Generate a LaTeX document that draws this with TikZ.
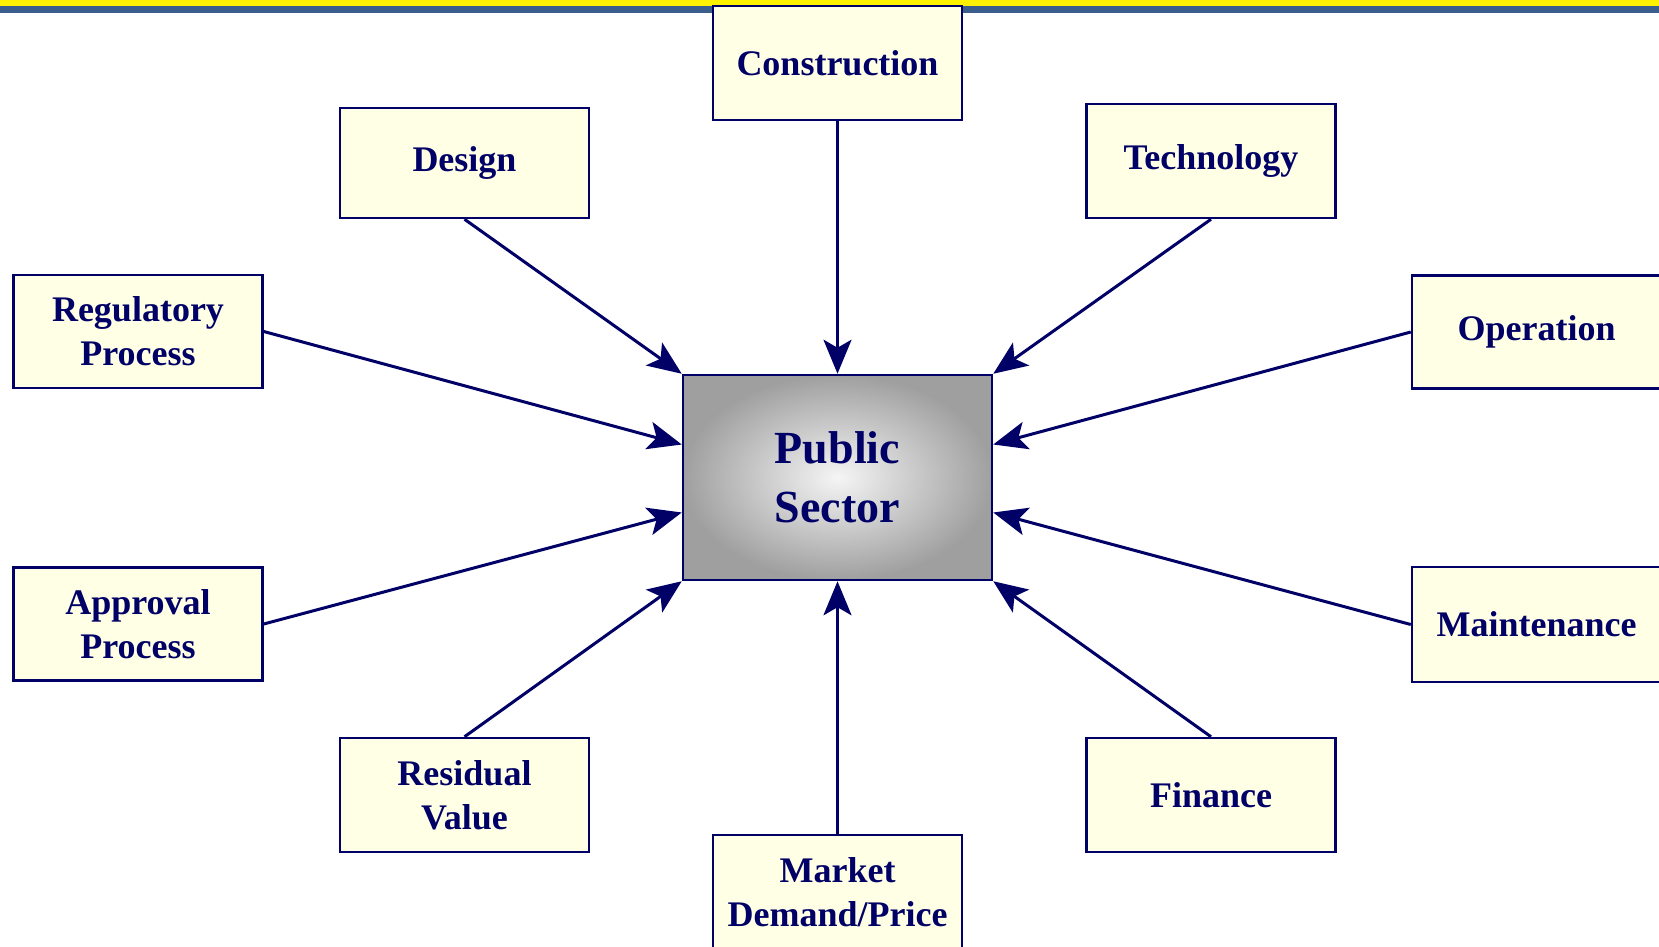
\documentclass[tikz,border=0pt]{standalone}
\usepackage{fontspec}
\setmainfont{Liberation Serif}
\usetikzlibrary{arrows.meta}
\definecolor{navy}{HTML}{000066}
\definecolor{paleyellow}{HTML}{FFFFE6}
\definecolor{bandblue}{HTML}{3B5E8C}

\begin{document}
\begin{tikzpicture}[x=1pt, y=-1pt,
    factor/.style={draw=navy, line width=2.5pt, fill=paleyellow, text=navy, align=center,
        minimum width=249pt, minimum height=113pt, inner sep=0pt,
        font=\fontsize{36}{44}\selectfont\bfseries},
    center/.style={draw=navy, line width=2.5pt, shading=radial, inner color=gray!8, outer color=gray!75,
        text=navy, align=center, minimum width=309pt, minimum height=205pt, inner sep=0pt,
        font=\fontsize{46}{59}\selectfont\bfseries},
    arr/.style={draw=navy, line width=3pt, -{Stealth[length=34pt, width=28pt, inset=8pt]}}]
    \useasboundingbox (0,0) rectangle (1659,947);

    % top band
    \fill[yellow] (0,0) rectangle (1659,6);
    \fill[bandblue] (0,6) rectangle (1659,13);

    \node[center] (public) at (837.5,477.5) {Public\\Sector};

    \node[factor, minimum height=114pt] (constr) at (837.5,63) {Construction};
    \node[factor, minimum height=110pt] (design) at (464.5,163) {Design};
    \node[factor, minimum height=114pt] (techn) at (1211,161) {Technology};
    \node[factor] (regul) at (138,331.5) {Regulatory\\Process};
    \node[factor] (operat) at (1536.5,332) {Operation};
    \node[factor] (approv) at (138,624) {Approval\\Process};
    \node[factor, minimum height=115pt] (maint) at (1536.5,624.5) {Maintenance};
    \node[factor, minimum height=114pt] (resid) at (464.5,795) {Residual\\Value};
    \node[factor, minimum height=114pt] (financ) at (1211,795) {Finance};
    \node[factor, minimum height=114pt] (market) at (837.5,892) {Market\\Demand/Price};

    \draw[arr] (constr.south) -- (public.north);
    \draw[arr] (design.south) -- (public.north west);
    \draw[arr] (techn.south) -- (public.north east);
    \draw[arr] (regul.east) -- ([yshift=33pt]public.west);
    \draw[arr] (operat.west) -- ([yshift=33pt]public.east);
    \draw[arr] (approv.east) -- ([yshift=-35pt]public.west);
    \draw[arr] (maint.west) -- ([yshift=-35pt]public.east);
    \draw[arr] (resid.north) -- (public.south west);
    \draw[arr] (market.north) -- (public.south);
    \draw[arr] (financ.north) -- (public.south east);
\end{tikzpicture}
\end{document}
